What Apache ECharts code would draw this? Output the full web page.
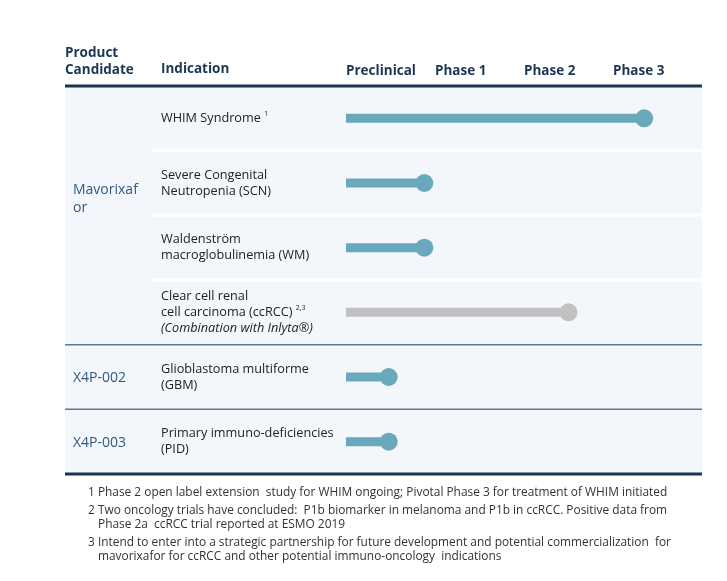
<!DOCTYPE html>
<html>
<head>
<meta charset="utf-8">
<script src="https://cdn.jsdelivr.net/npm/echarts@6/dist/echarts.min.js"></script>
<style>
  html, body { margin: 0; padding: 0; background: #ffffff; }
  #chart { width: 727px; height: 581px; }
</style>
</head>
<body>
<div id="chart"></div>
<script>
// pipeline data
const phases = ["Preclinical", "Phase 1", "Phase 2", "Phase 3"];
const products = ["Mavorixafor", "Mavorixafor", "Mavorixafor", "Mavorixafor", "X4P-002", "X4P-003"];
const indications = [
  "WHIM Syndrome",
  "Severe Congenital\nNeutropenia (SCN)",
  "Waldenström\nmacroglobulinemia (WM)",
  "Clear cell renal\ncell carcinoma (ccRCC)",
  "Glioblastoma multiforme\n(GBM)",
  "Primary immuno-deficiencies\n(PID)",
];
const noteRefs = ["1", "", "", "2,3", "", ""];
const indicationNotes = ["", "", "", "(Combination with Inlyta®)", "", ""];
// progress measured in phases from start of Preclinical
const progress = [3.35, 0.88, 0.88, 2.5, 0.48, 0.48];
const programStatus = ["active", "active", "active", "partnering", "active", "active"];
const footnotes = [
  ["1 Phase 2 open label extension  study for WHIM ongoing; Pivotal Phase 3 for treatment of WHIM initiated"],
  ["2 Two oncology trials have concluded:  P1b biomarker in melanoma and P1b in ccRCC. Positive data from",
   "Phase 2a  ccRCC trial reported at ESMO 2019"],
  ["3 Intend to enter into a strategic partnership for future development and potential commercialization  for",
   "mavorixafor for ccRCC and other potential immuno-oncology  indications"],
];

const FONT = '"Open Sans", "Noto Sans", sans-serif';
const NAVY = "#1b3553";
const TEAL = "#69a9bb";
const GREY = "#c1c1c1";
const ROW_BG = "#f3f7fb";
const PRODUCT_BLUE = "#2f5a80";
const TEXT = "#222222";
const TABLE_LEFT = 65;

function statusColor(i) {
  return programStatus[i] === "partnering" ? GREY : TEAL;
}

function indicationLabel(value, idx) {
  let s = value;
  if (noteRefs[idx]) s += " {sup|" + noteRefs[idx] + "}";
  if (indicationNotes[idx]) s += "\n{it|" + indicationNotes[idx] + "}";
  return s;
}

function hLine(x1, y, x2, color, width) {
  return {
    type: "line",
    shape: { x1: x1, y1: y, x2: x2, y2: y },
    style: { stroke: color, lineWidth: width },
  };
}

function renderRow(params, api) {
  const i = api.value(1);
  const cy = api.coord([0, i])[1];
  const h = api.size([0, 1])[1];
  const right = api.coord([phases.length, i])[0];
  const top = cy - h / 2;
  const bottom = cy + h / 2;
  const children = [
    {
      type: "rect",
      shape: { x: TABLE_LEFT, y: top, width: right - TABLE_LEFT, height: h },
      style: { fill: ROW_BG },
    },
  ];
  if (i === 0) {
    children.push(hLine(TABLE_LEFT, top, right, NAVY, 3));
  } else if (products[i] === products[i - 1]) {
    children.push(hLine(152, top, right, "#ffffff", 3));
  } else {
    children.push(hLine(TABLE_LEFT, top, right, "#5d7c94", 1.5));
  }
  if (i === products.length - 1) {
    children.push(hLine(TABLE_LEFT, bottom, right, NAVY, 3));
  }
  if (i === 0 || products[i] !== products[i - 1]) {
    let n = 1;
    while (products[i + n] === products[i]) n++;
    const mid = cy + ((n - 1) * h) / 2;
    children.push({
      type: "text",
      z2: 10,
      style: {
        text: products[i],
        x: 73,
        y: n > 1 ? mid + 2 : mid + 1,
        fill: PRODUCT_BLUE,
        fontSize: 14,
        fontFamily: FONT,
        lineHeight: 18,
        width: 68,
        overflow: "breakAll",
        align: "left",
        verticalAlign: n > 1 ? "bottom" : "middle",
      },
    });
  }
  return { type: "group", children: children };
}

const footnoteGraphics = [];
let fy = 487;
footnotes.forEach(function (lines) {
  lines.forEach(function (line, k) {
    footnoteGraphics.push({
      type: "text",
      left: k === 0 ? 88 : 98,
      top: fy,
      style: { text: line, fill: "#333333", fontSize: 11.9, fontFamily: FONT },
    });
    fy += 14;
  });
  fy += 4;
});

const chart = echarts.init(document.getElementById("chart"), null, { renderer: "canvas" });
chart.setOption({
  animation: false,
  textStyle: { fontFamily: FONT },
  title: [
    {
      text: "Product\nCandidate",
      left: 65,
      top: 45,
      padding: 0,
      textStyle: { fontSize: 13.5, fontWeight: "bold", color: NAVY, lineHeight: 17, fontFamily: FONT },
    },
    {
      text: "Indication",
      left: 161,
      top: 62,
      padding: 0,
      textStyle: { fontSize: 13.5, fontWeight: "bold", color: NAVY, fontFamily: FONT },
    },
  ],
  graphic: footnoteGraphics,
  grid: { left: 346, right: 25, top: 86, bottom: 107 },
  xAxis: {
    type: "value",
    position: "top",
    min: 0,
    max: phases.length,
    interval: 1,
    axisLine: { show: false },
    axisTick: { show: false },
    splitLine: { show: false },
    axisLabel: {
      margin: 8,
      align: "left",
      color: NAVY,
      fontWeight: "bold",
      fontSize: 13.5,
      fontFamily: FONT,
      formatter: function (v) {
        return phases[v] || "";
      },
    },
  },
  yAxis: {
    type: "category",
    inverse: true,
    data: indications,
    axisLine: { show: false },
    axisTick: { show: false },
    splitLine: { show: false },
    axisLabel: {
      margin: 185,
      align: "left",
      color: TEXT,
      fontSize: 12.7,
      lineHeight: 16,
      fontFamily: FONT,
      formatter: indicationLabel,
      rich: {
        sup: { fontSize: 7, verticalAlign: "top", lineHeight: 16, color: TEXT },
        it: { fontStyle: "italic", fontSize: 12.7, lineHeight: 16, color: TEXT },
      },
    },
  },
  series: [
    {
      type: "custom",
      z: 0,
      silent: true,
      clip: false,
      renderItem: renderRow,
      encode: { x: 0, y: 1 },
      data: indications.map(function (_, i) {
        return [0, i];
      }),
    },
    {
      type: "bar",
      z: 3,
      barWidth: 9,
      data: progress.map(function (v, i) {
        return { value: v, itemStyle: { color: statusColor(i) } };
      }),
    },
    {
      type: "scatter",
      z: 4,
      symbolSize: 18,
      data: progress.map(function (v, i) {
        return { value: [v, i], itemStyle: { color: statusColor(i), opacity: 1 } };
      }),
    },
  ],
});
</script>
</body>
</html>
